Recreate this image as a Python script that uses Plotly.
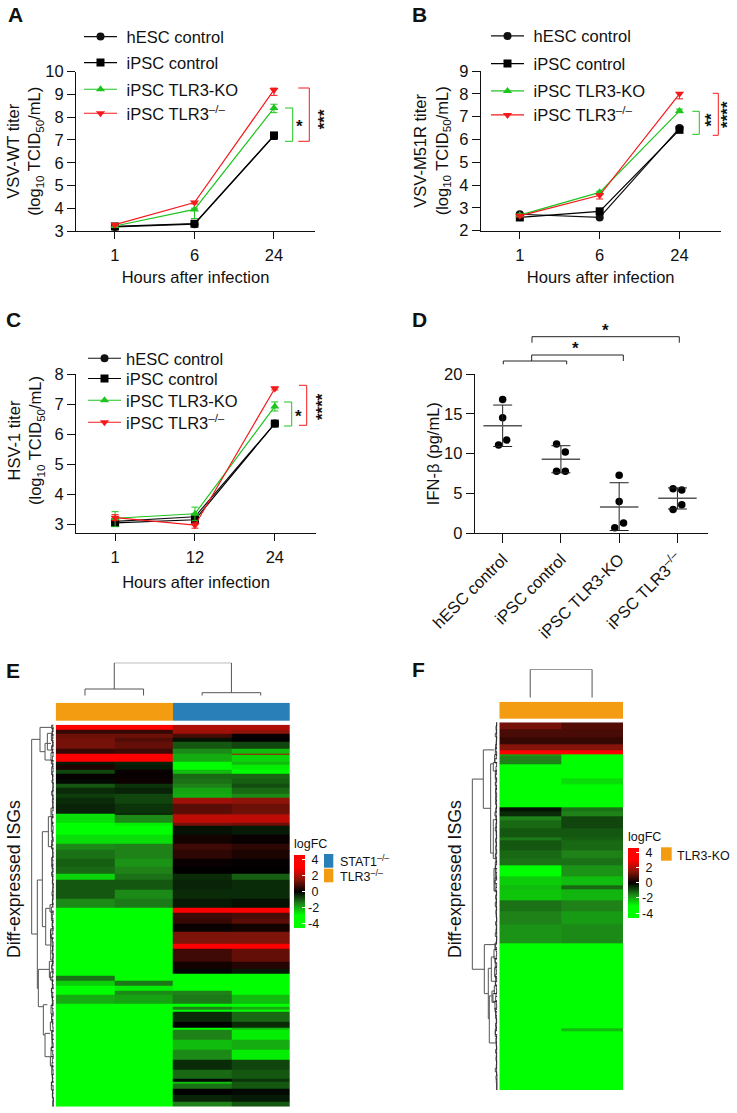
import plotly.graph_objects as go

W, H = 737, 1113
FONT = "Liberation Sans"
RED, GREEN = "#F5191C", "#1FC41F"
ORANGE, BLUE = "#F39C12", "#2980B9"

# ---------- line panels ----------
series_names = ["hESC control", "iPSC control", "iPSC TLR3-KO", "iPSC TLR3<sup>–/–</sup>"]
hours_ab = ["1", "6", "24"]
hours_c = ["1", "12", "24"]

A_hesc = [3.18, 3.30, 7.18]
A_ipsc = [3.20, 3.32, 7.20]
A_ko = [3.22, 3.95, 8.40]
A_null = [3.28, 4.25, 9.20]
A_up = [[0.05, 0.05, 0.08], [0.05, 0.05, 0.08], [0.05, 0.05, 0.17], [0.05, 0.05, 0.08]]
A_down = [[0.05, 0.05, 0.15], [0.05, 0.05, 0.15], [0.05, 0.40, 0.20], [0.05, 0.06, 0.24]]

B_hesc = [2.72, 2.58, 6.50]
B_ipsc = [2.58, 2.85, 6.42]
B_ko = [2.68, 3.68, 7.25]
B_null = [2.65, 3.55, 8.00]
B_up = [[0.05, 0.05, 0.05], [0.05, 0.05, 0.05], [0.05, 0.05, 0.08], [0.05, 0.05, 0.06]]
B_down = [[0.05, 0.06, 0.06], [0.05, 0.06, 0.06], [0.05, 0.06, 0.08], [0.05, 0.16, 0.22]]

C_hesc = [3.10, 3.25, 6.35]
C_ipsc = [3.05, 3.15, 6.35]
C_ko = [3.20, 3.35, 6.92]
C_null = [3.22, 2.97, 7.52]
C_up = [[0.10, 0.10, 0.05], [0.12, 0.10, 0.05], [0.22, 0.22, 0.15], [0.10, 0.10, 0.05]]
C_down = [[0.10, 0.10, 0.05], [0.12, 0.10, 0.05], [0.28, 0.22, 0.15], [0.10, 0.10, 0.05]]

symbols = ["circle", "square", "triangle-up", "triangle-down"]
colors = ["#111111", "#000000", GREEN, RED]

# ---------- dot panel ----------
D_groups = ["hESC control", "iPSC control", "iPSC TLR3-KO", "iPSC TLR3<sup>–/–</sup>"]
D_values = [[16.8, 14.5, 11.7, 11.1], [11.2, 10.2, 7.8, 7.8], [7.3, 4.0, 1.3, 0.7], [5.6, 5.45, 3.6, 3.0]]
D_jitter = [[0, 0, 0.07, -0.07], [-0.075, 0.075, -0.075, 0.075], [0, 0, 0.075, -0.075], [-0.075, 0.075, 0.075, -0.075]]
D_mean = [13.5, 9.3, 3.3, 4.4]
D_upper = [16.1, 11.0, 6.35, 5.7]
D_lower = [10.9, 7.6, 0.35, 3.05]

# ---------- heatmap E ----------
E_edges = [0, 14, 28, 38, 51, 71, 88, 91, 111, 121, 134, 146, 161, 176, 188, 206, 218, 238, 266, 271, 294, 304,
           331, 358, 376, 401, 426, 448, 466, 496, 521, 548, 563, 581, 598, 621, 656, 671, 711, 731, 746, 754,
           769, 784, 799, 811, 838, 846, 854, 862, 891, 908, 916, 946, 976, 996, 1001, 1006, 1036, 1063, 1071,
           1078, 1091, 1111, 1131, 1146]
E_c1 = [3.5, .6, 1.2, 1.3, 1.3, .6, 3.5, 3.5, -.3, .3, -.8, .05, -.1, -1, -.5, -.7, -.5, -.4, -2.8, -2.6, -3.2, -3.5,
        -2.6, -1.6, -1.3, -1.1, -1.2, -2.5, -1, -1, -1.6, -4, -3.5, -4, -4, -4, -4, -4, -4, -4, -4,
        -1.3, -2.4, -4, -4, -2, -4, -4, -4, -4, -4, -4, -4, -4, -4, -3.2, -4, -4, -4, -4, -4, -4, -4, -4, -4]
E_c2 = [3.5, .6, 1.2, .9, 1.1, .7, 3.5, 3.5, -.4, -.3, .1, .1, .15, -.6, -.4, -.8, -.8, -.6, -.2, -1.6, -2.8, -3.3,
        -2.6, -1.5, -1.5, -1.7, -1.5, -1.3, -1, -1.6, -1.4, -4, -3.5, -4, -4, -4, -4, -4, -4, -4, -4,
        -3, -1.4, -2.8, -1.6, -1.9, -4, -4, -4, -4, -4, -4, -4, -4, -4, -4, -4, -4, -4, -4, -4, -4, -4, -4, -4]
E_c3 = [2, 1.8, .8, -.2, -1, -1.6, -2, -2, -3, -3, -2.2, -1.2, -1.3, -1.5, -1.9, -2, 1.8, 1, 1.5, 2.2, 1.3, -.2,
        .2, .7, .5, .1, 0, -.5, -.4, -.5, -.3, 3.5, .7, .6, .1, 1.4, 3.5, .7, .2, -.1, -3,
        -4, -4, -3.5, -1.5, -1.4, -3.5, -1.5, -3.2, -.5, 0, -3, -1.5, -2.2, -1.6, -1.6, -1.6, -.5, -1.2, -.1, -2.2,
        -1.3, 0, -.4, -1.5]
E_c4 = [2, 1.6, .1, 0, -.8, -2.2, 2, -2.5, -2.2, -2.8, -3, -1.2, -1.1, -.9, -1.2, -1.6, 1.6, 1.2, 1.5, 2.2, 1.2, -.3,
        .1, .5, .3, .05, 0, -1.1, -.5, -.5, -.2, 3.5, .8, 1, .2, 1.4, 3.5, 1.1, .4, -.3, -3.5,
        -3.2, -3.5, -3.5, -3.2, -2.2, -3.5, -2, -3.5, -1.2, -.5, -2.2, -2.8, -2, -2.8, -2.8, -2.8, -.8, -1, -.6, -1,
        -1, -.1, -.3, -1]
E_group = [0, 0, 1, 1]

# (low row, high row, height, height of low child, height of high child)
E_merges = [
    (44, 628, 72, 47, 55), (8, 81, 47, 12, 32), (56, 106, 32, 14, 12), (26, 76, 25, 12, 10),
    (466, 791, 55, 40, 52), (321, 606, 40, 22, 30), (276, 366, 22, 14, 12), (551, 661, 30, 18, 15),
    (616, 706, 15, 9, 9), (734, 846, 52, 19, 37), (840, 931, 37, 25, 32), (926, 996, 32, 17, 17),
    (710, 758, 19, 10, 10),
]
E_fuzz = [
    (0, 12, 12), (12, 30, 10), (30, 48, 13), (48, 66, 9), (66, 84, 11), (84, 108, 14), (108, 126, 9), (126, 150, 12),
    (150, 174, 9), (174, 198, 8), (198, 222, 9), (222, 250, 8), (250, 276, 14), (276, 296, 11), (296, 322, 13),
    (322, 346, 10), (346, 370, 12), (370, 398, 9), (398, 424, 12), (424, 450, 10), (450, 476, 9), (476, 510, 8),
    (510, 540, 9), (540, 562, 17), (562, 588, 13), (588, 612, 9), (612, 640, 15), (640, 666, 11), (666, 690, 9),
    (690, 716, 8), (716, 742, 11), (742, 766, 16), (766, 790, 10), (790, 818, 12), (818, 842, 10), (842, 868, 14),
    (868, 892, 12), (892, 918, 16), (918, 944, 12), (944, 968, 11), (968, 996, 14), (996, 1024, 16), (1024, 1050, 12),
    (1050, 1072, 10), (1072, 1096, 13), (1096, 1118, 9), (1118, 1146, 7),
]
E_leaf_rows = [0, 9, 20, 31, 40, 53, 62, 74, 83, 95, 108, 118, 131, 141, 154, 166, 175, 188, 199, 212, 224, 233, 247,
               258, 270, 279, 293, 304, 316, 325, 339, 350, 361, 373, 384, 396, 407, 420, 431, 442, 455, 466, 478,
               488, 501, 513, 524, 536, 547, 559, 569, 582, 593, 606, 617, 628, 641, 652, 663, 676, 687, 699, 710,
               722, 733, 746, 756, 769, 780, 792, 803, 816, 827, 838, 851, 862, 874, 885, 897, 908, 921, 931, 944,
               955, 967, 978, 990, 1001, 1014, 1025, 1036, 1049, 1060, 1072, 1083, 1095, 1106, 1119, 1130, 1146]
E_leaf_h = [9, 8, 11, 9, 10, 8, 12, 9, 8, 10, 13, 9, 8, 10, 9, 11, 8, 9, 12, 8, 10, 9, 8, 11, 9, 13, 10, 8, 9, 11, 8,
            10, 12, 9, 8, 10, 9, 11, 8, 12, 9, 10, 8, 9, 11, 8, 10, 9, 13, 8, 10, 9, 11, 8, 9, 12, 10, 8, 9, 11, 8,
            10, 9, 12, 8, 9, 11, 10, 8, 13, 9, 10, 8, 11, 9, 8, 12, 10, 9, 8, 11, 9, 10, 8, 12, 9, 8, 10, 11, 9, 8,
            10, 9, 12, 8, 9, 10, 8, 9]
E_top = [(0.5, 1.5, 6.7, 0, 0), (2.5, 3.5, 3, 0, 0), (1.0, 3.0, 33, 6.7, 3)]

# ---------- heatmap F ----------
F_edges = [0, 23, 45, 68, 85, 99, 105, 128, 173, 191, 208, 263, 273, 291, 303, 328, 353, 363, 393, 418, 441, 473, 503,
           515, 548, 583, 623, 680, 943, 951, 1133]
F_c1 = [1.3, .8, .6, 1.5, 3.5, -1.8, -1.5, -4, -3, -3.5, -4, -.2, -.5, -1.5, -1.2, -1, -1.4, -1, -1.2, -1.3, -4, -2.4,
        -2.2, -2.3, -1.3, -1.5, -1.7, -4, -4, -4]
F_c2 = [.9, .8, .6, 1.5, 3, -4, -4, -4, -2.6, -3, -4, -1.3, -1.5, -.8, -.8, -1, -1.1, -1.2, -1.5, -1.3, -1.7, -2.2,
        -1.2, -2.1, -1.5, -1.8, -1.6, -4, -2.2, -4]
F_group = [0, 0]
F_merges = [
    (175, 761, 81, 48, 45), (85, 265, 48, 16, 26), (128, 403, 26, 18, 18), (300, 420, 18, 10, 10),
    (685, 836, 45, 13, 33), (758, 913, 33, 24, 30), (723, 798, 24, 12, 12), (843, 988, 30, 22, 10),
    (828, 863, 22, 13, 13), (450, 520, 16, 9, 9),
]
F_fuzz = [
    (0, 24, 8), (24, 50, 8), (50, 80, 9), (80, 100, 12), (100, 124, 14), (124, 150, 18), (150, 176, 12), (176, 204, 10),
    (204, 240, 11), (240, 262, 9), (262, 300, 10), (300, 340, 9), (340, 380, 9), (380, 430, 10), (430, 480, 12),
    (480, 520, 13), (520, 560, 9), (560, 600, 9), (600, 640, 8), (640, 680, 8), (680, 700, 13), (700, 728, 16),
    (728, 756, 12), (756, 784, 14), (784, 812, 11), (812, 836, 15), (836, 860, 19), (860, 884, 13), (884, 912, 11),
    (912, 944, 9), (944, 968, 12), (968, 1000, 9), (1000, 1040, 8), (1040, 1084, 8), (1084, 1133, 7),
]
F_leaf_rows = [0, 11, 23, 34, 45, 58, 68, 80, 91, 103, 112, 125, 136, 148, 160, 171, 184, 195, 207, 218, 231, 242, 253,
               265, 276, 289, 300, 311, 324, 335, 347, 358, 370, 381, 393, 405, 416, 428, 439, 451, 463, 474, 486,
               497, 509, 520, 533, 544, 555, 568, 579, 591, 602, 614, 625, 637, 649, 660, 672, 683, 695, 706, 718,
               729, 741, 753, 764, 776, 787, 799, 810, 823, 834, 845, 858, 869, 881, 892, 904, 915, 927, 939, 950,
               962, 973, 985, 996, 1008, 1019, 1031, 1043, 1054, 1066, 1077, 1089, 1100, 1112, 1133]
F_leaf_h = [8, 10, 9, 12, 8, 9, 11, 10, 8, 9, 13, 8, 10, 9, 11, 8, 12, 9, 10, 8, 9, 11, 8, 10, 13, 9, 8, 10, 12, 9, 8,
            11, 9, 10, 8, 12, 9, 8, 11, 10, 9, 8, 13, 9, 10, 8, 11, 9, 12, 8, 10, 9, 8, 11, 9, 10, 12, 8, 9, 11, 10,
            8, 9, 13, 8, 10, 9, 11, 8, 12, 9, 8, 10, 11, 9, 8, 13, 10, 9, 8, 11, 9, 12, 8, 10, 9, 8, 11, 9, 10, 8, 9,
            12, 8, 10, 9, 8]
F_top = [(0.5, 1.5, 28.4, 0, 0)]

scale = [[0, "#00FF00"], [1.6 / 9.2, "#00FF00"], [3.1 / 9.2, "#1E8219"], [0.5, "#000000"],
         [6.1 / 9.2, "#87140A"], [7.6 / 9.2, "#FF0000"], [1, "#FF0000"]]


def dx(a, b):
    return [a / W, b / W]


def dy(top, bot):
    return [1 - bot / H, 1 - top / H]


def px(x):
    return x / W


def py(y):
    return 1 - y / H


fig = go.Figure()
layout = dict(
    width=W, height=H, autosize=False, margin=dict(l=0, r=0, t=0, b=0, autoexpand=False),
    plot_bgcolor="white", paper_bgcolor="white",
    font=dict(family=FONT, size=16.5, color="#111111"), showlegend=True,
)
annotations, shapes = [], []
TF = dict(family=FONT, size=16.5, color="#111111")


def note(x, y, text, size=16.5, angle=0, bold=False, xanchor="center"):
    annotations.append(dict(
        x=px(x), y=py(y), xref="paper", yref="paper", text=f"<b>{text}</b>" if bold else text,
        showarrow=False, textangle=angle, xanchor=xanchor, yanchor="middle",
        font=dict(family=FONT, size=size, color="#111111"),
    ))


def bracket(x0, x1, y0, y1, color):
    shapes.append(dict(type="path", xref="paper", yref="paper",
                       path=f"M {px(x0)},{py(y0)} L {px(x1)},{py(y0)} L {px(x1)},{py(y1)} L {px(x0)},{py(y1)}",
                       line=dict(color=color, width=1)))


def style_axes(n, xdom, ydom, **kw):
    s = "" if n == 1 else str(n)
    common = dict(showline=True, linecolor="#111111", linewidth=1, ticks="outside", tickwidth=1,
                  tickcolor="#111111", showgrid=False, zeroline=False, tickfont=dict(family=FONT, size=16.5))
    layout["xaxis" + s] = dict(common, domain=xdom, anchor="y" + s, ticklen=7, **kw.get("x", {}))
    layout["yaxis" + s] = dict(common, domain=ydom, anchor="x" + s, ticklen=8, **kw.get("y", {}))


legend_common = dict(bgcolor="rgba(0,0,0,0)", itemwidth=33, xanchor="left", yanchor="top",
                     font=dict(family=FONT, size=16.5), itemclick=False, itemdoubleclick=False)
legend_count = [0]


def line_panel(n, cats, data, ups, downs, leg_x, leg_rows, prefix):
    s = "" if n == 1 else str(n)
    for i, (vals, u, d) in enumerate(zip(data, ups, downs)):
        legend_count[0] += 1
        name = "legend" + ("" if legend_count[0] == 1 else str(legend_count[0]))
        layout[name] = dict(legend_common, x=px(leg_x), y=py(leg_rows[i] - 18))
        fig.add_trace(go.Scatter(
            x=cats, y=vals, mode="lines+markers", name=prefix + series_names[i], xaxis="x" + s, yaxis="y" + s,
            line=dict(color=colors[i], width=1.2), marker=dict(symbol=symbols[i], size=8, color=colors[i]),
            error_y=dict(type="data", symmetric=False, array=u, arrayminus=d, color=colors[i], thickness=1, width=3.5),
            cliponaxis=False, legend=name, showlegend=True,
        ))


line_panel(1, hours_ab, [A_hesc, A_ipsc, A_ko, A_null], A_up, A_down, 79, [37.3, 63.3, 90, 114], "\u00a0")
line_panel(2, hours_ab, [B_hesc, B_ipsc, B_ko, B_null], B_up, B_down, 486, [36.7, 64.3, 91.7, 115.7], "\u00a0")
line_panel(3, hours_c, [C_hesc, C_ipsc, C_ko, C_null], C_up, C_down, 83, [359, 379.3, 401, 423], "")

xtitle = "Hours after infection"
style_axes(1, dx(76, 315), dy(71.7, 231),
           x=dict(type="category", categoryorder="array", categoryarray=hours_ab, range=[-0.49, 2.516],
                  ticklabelstandoff=2, title=dict(text=xtitle, standoff=8, font=TF)),
           y=dict(range=[3, 10], dtick=1, title=dict(text="VSV-WT titer<br>(log<sub>10</sub> TCID<sub>50</sub>/mL)", standoff=0, font=TF)))
style_axes(2, dx(480.7, 720.7), dy(71, 230.7),
           x=dict(type="category", categoryorder="array", categoryarray=hours_ab, range=[-0.49, 2.516],
                  ticklabelstandoff=2, title=dict(text=xtitle, standoff=8, font=TF)),
           y=dict(range=[2, 9], dtick=1, title=dict(text="VSV-M51R titer<br>(log<sub>10</sub> TCID<sub>50</sub>/mL)", standoff=6, font=TF)))
style_axes(3, dx(76, 316), dy(374, 533.3),
           x=dict(type="category", categoryorder="array", categoryarray=hours_c, range=[-0.49, 2.516],
                  ticklabelstandoff=2, title=dict(text=xtitle, standoff=11, font=TF)),
           y=dict(range=[2.7, 8], dtick=1))
note(26, 441, "HSV-1 titer<br>(log<sub>10</sub> TCID<sub>50</sub>/mL)", angle=-90)

# brackets and stars
bracket(298.3, 309.3, 88, 141.3, RED)
bracket(285, 292.7, 108, 141.3, GREEN)
note(299.3, 127, "*", 17, bold=True)
note(324, 119.3, "***", 17, -90, True)
bracket(692.3, 699.3, 111.3, 134.3, GREEN)
bracket(712.7, 718.3, 93.3, 135.3, RED)
note(711.3, 119.3, "**", 17, -90, True)
note(726.9, 114, "****", 17, -90, True)
bracket(284, 291.7, 402, 426, GREEN)
bracket(299, 306.7, 385.3, 425.3, RED)
note(298.3, 416, "*", 17, bold=True)
note(322.3, 406.7, "****", 17, -90, True)

# ---------- D ----------
for g, (vals, jit) in enumerate(zip(D_values, D_jitter)):
    fig.add_trace(go.Scatter(x=[g + j for j in jit], y=vals, mode="markers", xaxis="x4", yaxis="y4",
                             marker=dict(color="#000000", size=7.5), showlegend=False, cliponaxis=False))
fig.add_trace(go.Scatter(
    x=[0, 1, 2, 3], y=D_mean, mode="markers", xaxis="x4", yaxis="y4", showlegend=False, cliponaxis=False,
    marker=dict(size=1, color="#555555"),
    error_x=dict(type="constant", value=0.33, color="#555555", thickness=1.5, width=0),
    error_y=dict(type="data", symmetric=False, array=[u - m for u, m in zip(D_upper, D_mean)],
                 arrayminus=[m - l for m, l in zip(D_mean, D_lower)], color="#222222", thickness=1, width=9.5),
))
style_axes(4, dx(474.7, 708.3), dy(374, 533.3),
           x=dict(tickmode="array", tickvals=[0, 1, 2, 3], ticktext=D_groups, tickangle=-45,
                  range=[-0.48, 3.53]),
           y=dict(range=[0, 20], dtick=5, title=dict(text="IFN-β (pg/mL)", standoff=0, font=TF)))
layout["xaxis4"]["ticklen"] = 9
for x0, x1, ytop, y0, y1 in [(503.3, 566.7, 361, 364.3, 364.3), (531.7, 623.3, 355, 361, 361), (532, 679.3, 336.7, 342.7, 342.7)]:
    shapes.append(dict(type="path", xref="paper", yref="paper",
                       path=f"M {px(x0)},{py(y0)} L {px(x0)},{py(ytop)} L {px(x1)},{py(ytop)} L {px(x1)},{py(y1)}",
                       line=dict(color="#222222", width=1)))
note(605.7, 331, "*", 17, bold=True)
note(575.3, 348, "*", 17, bold=True)


# ---------- heatmaps ----------
def path_of(items, horizontal):
    a, b = [], []
    for lo, hi, h, hl, hh in items:
        # bracket: child -> merge -> merge -> child, in (height, position)
        a += [hl, h, h, hh, None]
        b += [lo, lo, hi, hi, None]
    return (a, b) if horizontal else (b, a)


def heat_panel(n0, columns, edges, merges, fuzz, leaf_rows, leaf_h, top, group, x0, x1, ytop, ybot, atop, abot, dtop, dbot,
               dleft, drange, cb_x, cb_top, cb_len, hmax):
    ns = list(range(n0, n0 + 4))
    s = [str(k) for k in ns]
    z = [list(r) for r in zip(*columns)]
    nc = len(columns)
    xedge = list(range(nc + 1))
    fig.add_trace(go.Heatmap(
        z=z, x=xedge, y=edges, xaxis="x" + s[0], yaxis="y" + s[0], zmin=-4.6, zmax=4.6, colorscale=scale,
        hoverinfo="skip",
        colorbar=dict(x=px(cb_x), y=py(cb_top - 18), xanchor="left", yanchor="top", xref="paper", yref="paper",
                      lenmode="pixels", len=cb_len + 18, thicknessmode="pixels", thickness=10.7, xpad=0, ypad=0,
                      outlinewidth=0, tickmode="array", tickvals=[4, 2, 0, -2, -4],
                      ticktext=["\u00a04", "\u00a02", "\u00a00", "-2", "-4"], ticks="inside", tickcolor="white", ticklen=3,
                      tickfont=dict(family=FONT, size=12.5), title=dict(text="logFC", side="top", font=dict(family=FONT, size=12.5))),
    ))
    fig.add_trace(go.Heatmap(
        z=[group], x=xedge, y=[0, 1], xaxis="x" + s[1], yaxis="y" + s[1], zmin=0, zmax=1, showscale=False,
        colorscale=[[0, ORANGE], [0.5, ORANGE], [0.5, BLUE], [1, BLUE]], hoverinfo="skip",
    ))
    tx, ty = path_of(top, False)
    fig.add_trace(go.Scatter(x=tx, y=ty, mode="lines", xaxis="x" + s[2], yaxis="y" + s[2], showlegend=False,
                             line=dict(color="#555555", width=1), hoverinfo="skip", cliponaxis=False))
    mx, my = path_of(merges, True)
    fig.add_trace(go.Scatter(x=mx, y=my, mode="lines", xaxis="x" + s[3], yaxis="y" + s[3], showlegend=False,
                             line=dict(color="#555555", width=1), hoverinfo="skip", cliponaxis=False))
    small = [(lo, hi, h, 7, 7) for lo, hi, h in fuzz]
    small += [(a, b, h, 7, 7) for a, b, h in zip(leaf_rows[:-1], leaf_rows[1:], leaf_h)]
    fx, fy = path_of(small, True)
    fig.add_trace(go.Scatter(x=fx, y=fy, mode="lines", xaxis="x" + s[3], yaxis="y" + s[3], showlegend=False,
                             line=dict(color="#222222", width=0.8), hoverinfo="skip", cliponaxis=False))
    hide = dict(visible=False, showgrid=False, zeroline=False)
    layout["xaxis" + s[0]] = dict(hide, domain=dx(x0, x1), anchor="y" + s[0], range=[0, nc])
    layout["yaxis" + s[0]] = dict(hide, domain=dy(ytop, ybot), anchor="x" + s[0], range=[edges[-1], edges[0]])
    layout["xaxis" + s[1]] = dict(hide, domain=dx(x0, x1), anchor="y" + s[1], range=[0, nc])
    layout["yaxis" + s[1]] = dict(hide, domain=dy(atop, abot), anchor="x" + s[1], range=[0, 1])
    layout["xaxis" + s[2]] = dict(hide, domain=dx(x0, x1), anchor="y" + s[2], range=[0, nc])
    layout["yaxis" + s[2]] = dict(hide, domain=dy(dtop, dbot), anchor="x" + s[2], range=[0, hmax])
    layout["xaxis" + s[3]] = dict(hide, domain=dx(dleft, x0), anchor="y" + s[3], range=[drange, 0])
    layout["yaxis" + s[3]] = dict(hide, domain=dy(ytop, ybot), anchor="x" + s[3], range=[edges[-1], edges[0]])


heat_panel(5, [E_c1, E_c2, E_c3, E_c4], E_edges, E_merges, E_fuzz, E_leaf_rows, E_leaf_h, E_top, E_group,
           55.7, 290, 724.7, 1106.7, 702.7, 721, 662.7, 695.7, 30, 77, 294, 854, 73.7, 33)
heat_panel(9, [F_c1, F_c2], F_edges, F_merges, F_fuzz, F_leaf_rows, F_leaf_h, F_top, F_group,
           499.3, 623, 722.3, 1090, 701.7, 719, 669.3, 697.7, 470, 88, 628, 846.7, 71, 28.4)

note(14, 879, "Diff-expressed ISGs", 17.7, -90)
note(455, 879, "Diff-expressed ISGs", 17.7, -90)

for color, y0, y1 in [(BLUE, 854, 867.7), (ORANGE, 868.7, 882.3)]:
    shapes.append(dict(type="rect", xref="paper", yref="paper", x0=px(324), x1=px(333.3), y0=py(y1), y1=py(y0),
                       fillcolor=color, line=dict(width=0)))
note(338, 861, "STAT1<sup>–/–</sup>", 12.5, xanchor="left")
note(338, 876, "TLR3<sup>–/–</sup>", 12.5, xanchor="left")
shapes.append(dict(type="rect", xref="paper", yref="paper", x0=px(661), x1=px(671.7), y0=py(860.7), y1=py(847.3),
                   fillcolor=ORANGE, line=dict(width=0)))
note(675, 855.7, "TLR3-KO", 12.5, xanchor="left")

# panel letters
for letter, x, y in [("A", 15.5, 14.5), ("B", 420, 14.5), ("C", 13.5, 319.5), ("D", 419, 319.5), ("E", 13, 670.5), ("F", 418.5, 670)]:
    note(x, y, letter, 21, bold=True)

layout["annotations"] = annotations
layout["shapes"] = shapes
fig.update_layout(**layout)
fig.write_html("out.html", config={"displayModeBar": False}, post_script="document.body.style.margin='0';")
